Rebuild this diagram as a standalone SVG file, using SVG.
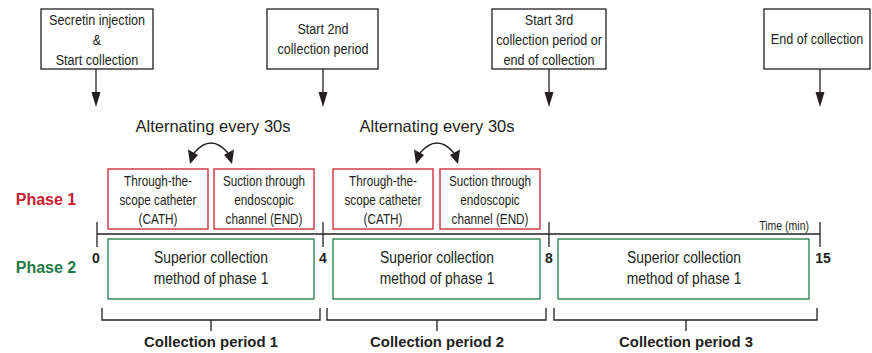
<svg xmlns="http://www.w3.org/2000/svg" width="872" height="353" viewBox="0 0 872 353">
<defs>
<style>
text{font-family:"Liberation Sans",Arial,sans-serif;fill:#231f20;text-anchor:middle}
.tb{fill:#fff;stroke:#231f20;stroke-width:1.3}
.t12{font-size:15px}
.rb{fill:#fff;stroke:#c8202f;stroke-width:1.3}
.gb{fill:#fff;stroke:#1e7a45;stroke-width:1.3}
.m12{font-size:14px}
.m14{font-size:16.5px}
.ln{stroke:#231f20;stroke-width:1.3;fill:none}
.num{font-size:14px;font-weight:bold}
.cp{font-size:15.5px;font-weight:bold}
.alt{font-size:16.5px}
.arr{fill:#231f20}
</style>
</defs>
<g id="event1">
<rect class="tb" x="41" y="9" width="112" height="60"/>
<text class="t12" transform="translate(97 25) scale(.84 1)">Secretin injection</text>
<text class="t12" transform="translate(97 45) scale(.84 1)">&amp;</text>
<text class="t12" transform="translate(97 65) scale(.84 1)">Start collection</text>
</g>
<g id="event2">
<rect class="tb" x="267" y="9" width="111" height="60"/>
<text class="t12" transform="translate(323 34) scale(.84 1)">Start 2nd</text>
<text class="t12" transform="translate(323 54) scale(.84 1)">collection period</text>
</g>
<g id="event3">
<rect class="tb" x="492" y="9" width="114" height="60"/>
<text class="t12" transform="translate(549 25) scale(.84 1)">Start 3rd</text>
<text class="t12" transform="translate(549 45) scale(.84 1)">collection period or</text>
<text class="t12" transform="translate(549 65) scale(.84 1)">end of collection</text>
</g>
<g id="event4">
<rect class="tb" x="764" y="9" width="106" height="60"/>
<text class="t12" transform="translate(817 44) scale(.84 1)">End of collection</text>
</g>
<g id="connectors">
<line class="ln" x1="96" y1="69" x2="96" y2="95"/><polygon class="arr" points="91.5,92 100.5,92 96,107"/>
<line class="ln" x1="323" y1="69" x2="323" y2="95"/><polygon class="arr" points="318.5,92 327.5,92 323,107"/>
<line class="ln" x1="549" y1="69" x2="549" y2="95"/><polygon class="arr" points="544.5,92 553.5,92 549,107"/>
<line class="ln" x1="820" y1="69" x2="820" y2="95"/><polygon class="arr" points="815.5,92 824.5,92 820,107"/>
<path class="ln" d="M194,153 Q211,133 228,153"/>
<polygon class="arr" points="190,164 188,149.5 198,155"/>
<polygon class="arr" points="232,164 224,155 234,149.5"/>
<path class="ln" d="M420,153 Q437,133 454,153"/>
<polygon class="arr" points="416,164 414,149.5 424,155"/>
<polygon class="arr" points="458,164 450,155 460,149.5"/>
</g>
<g id="timeline">
<line class="ln" x1="97" y1="234" x2="820" y2="234"/>
<line class="ln" x1="97" y1="222" x2="97" y2="247"/>
<line class="ln" x1="323" y1="222" x2="323" y2="247"/>
<line class="ln" x1="549" y1="222" x2="549" y2="247"/>
<line class="ln" x1="820" y1="222" x2="820" y2="247"/>
<text style="font-size:12.5px;text-anchor:end" transform="translate(809 230) scale(.84 1)">Time (min)</text>
<text class="num" x="96" y="263">0</text>
<text class="num" x="323" y="263">4</text>
<text class="num" x="549" y="263">8</text>
<text class="num" x="823" y="263">15</text>
</g>
<g id="labels">
<text style="font-size:16px;font-weight:bold;fill:#c8202f" x="46" y="205">Phase 1</text>
<text style="font-size:16px;font-weight:bold;fill:#1e7a45" x="46" y="273">Phase 2</text>
<text class="alt" x="213" y="132">Alternating every 30s</text>
<text class="alt" x="437" y="132">Alternating every 30s</text>
</g>
<g id="cath1">
<rect class="rb" x="108" y="169" width="100" height="60"/>
<text class="m12" transform="translate(158 186) scale(.84 1)">Through-the-</text>
<text class="m12" transform="translate(158 205) scale(.84 1)">scope catheter</text>
<text class="m12" transform="translate(158 224) scale(.84 1)">(CATH)</text>
</g>
<g id="end1">
<rect class="rb" x="214" y="169" width="100" height="60"/>
<text class="m12" transform="translate(264 186) scale(.84 1)">Suction through</text>
<text class="m12" transform="translate(264 205) scale(.84 1)">endoscopic</text>
<text class="m12" transform="translate(264 224) scale(.84 1)">channel (END)</text>
</g>
<g id="cath2">
<rect class="rb" x="333" y="169" width="100" height="60"/>
<text class="m12" transform="translate(383 186) scale(.84 1)">Through-the-</text>
<text class="m12" transform="translate(383 205) scale(.84 1)">scope catheter</text>
<text class="m12" transform="translate(383 224) scale(.84 1)">(CATH)</text>
</g>
<g id="end2">
<rect class="rb" x="440" y="169" width="100" height="60"/>
<text class="m12" transform="translate(490 186) scale(.84 1)">Suction through</text>
<text class="m12" transform="translate(490 205) scale(.84 1)">endoscopic</text>
<text class="m12" transform="translate(490 224) scale(.84 1)">channel (END)</text>
</g>
<g id="sup1">
<rect class="gb" x="108" y="239" width="206" height="60"/>
<text class="m14" transform="translate(211 263) scale(.84 1)">Superior collection</text>
<text class="m14" transform="translate(211 284) scale(.84 1)">method of phase 1</text>
</g>
<g id="sup2">
<rect class="gb" x="333" y="239" width="207" height="60"/>
<text class="m14" transform="translate(437 263) scale(.84 1)">Superior collection</text>
<text class="m14" transform="translate(437 284) scale(.84 1)">method of phase 1</text>
</g>
<g id="sup3">
<rect class="gb" x="558" y="239" width="251" height="60"/>
<text class="m14" transform="translate(684 263) scale(.84 1)">Superior collection</text>
<text class="m14" transform="translate(684 284) scale(.84 1)">method of phase 1</text>
</g>
<g id="period1">
<path class="ln" d="M102,308 V320 H320 V308 M211,320 V331"/>
<text class="cp" transform="translate(211 347) scale(.96 1)">Collection period 1</text>
</g>
<g id="period2">
<path class="ln" d="M327,308 V320 H546 V308 M437,320 V331"/>
<text class="cp" transform="translate(437 347) scale(.96 1)">Collection period 2</text>
</g>
<g id="period3">
<path class="ln" d="M554,308 V320 H817 V308 M686,320 V331"/>
<text class="cp" transform="translate(686 347) scale(.96 1)">Collection period 3</text>
</g>
</svg>
